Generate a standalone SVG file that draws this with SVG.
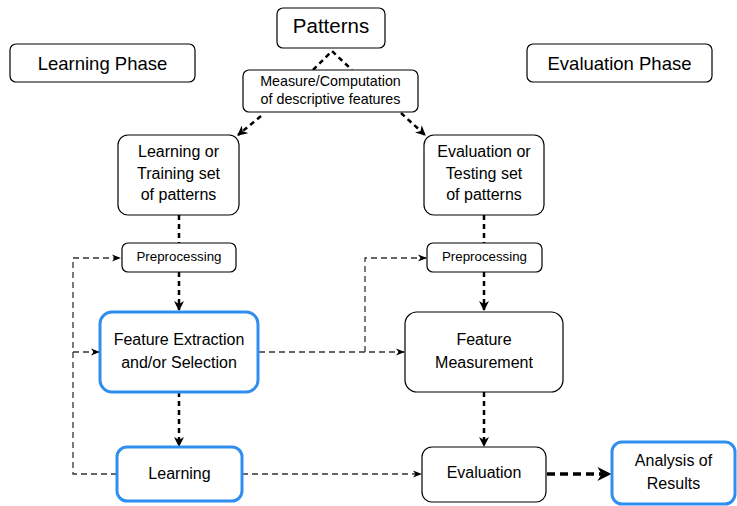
<svg xmlns="http://www.w3.org/2000/svg" width="737" height="506" viewBox="0 0 737 506">
  <defs>
    <marker id="arr" viewBox="0 0 10 10" refX="9" refY="5" markerWidth="4" markerHeight="4" orient="auto" markerUnits="strokeWidth">
      <path d="M0,0 L10,5 L0,10 L3,5 Z" fill="#000"/>
    </marker>
    <marker id="arrThin" viewBox="0 0 10 10" refX="9" refY="5" markerWidth="7" markerHeight="7" orient="auto" markerUnits="strokeWidth">
      <path d="M0,1 L10,5 L0,9 L3,5 Z" fill="#000"/>
    </marker>
    <style>
      .box { fill: #fff; stroke: #000; stroke-width: 1.2; }
      .blue { fill: #fff; stroke: #2f8ff0; stroke-width: 3; }
      text { font-family: "Liberation Sans", Arial, sans-serif; fill: #000; text-anchor: middle; }
      .t16 { font-size: 16px; }
      .t14 { font-size: 14.3px; }
      .t13 { font-size: 13.3px; }
      .t18 { font-size: 18.5px; }
      .main { fill: none; stroke: #000; stroke-width: 2.5; stroke-dasharray: 5 4; }
      .loop { fill: none; stroke: #333; stroke-width: 1.3; stroke-dasharray: 6 4; }
      .thick { fill: none; stroke: #000; stroke-width: 3.5; stroke-dasharray: 8 5; }
    </style>
  </defs>

  <g id="connectors">
    <!-- chevron between Patterns and the feature computation box -->
    <path class="main" d="M313,70 L332,51 L352,70"/>
    <!-- computation box to the two pattern sets -->
    <path class="main" d="M261,116 L238,135" marker-end="url(#arr)"/>
    <path class="main" d="M401,113 L425,135" marker-end="url(#arr)"/>
    <!-- learning column -->
    <path class="main" d="M179,215 L179,243"/>
    <path class="main" d="M179,272 L179,310" marker-end="url(#arr)"/>
    <path class="main" d="M179,392 L179,446" marker-end="url(#arr)"/>
    <!-- evaluation column -->
    <path class="main" d="M484,215 L484,243"/>
    <path class="main" d="M484,272 L484,310" marker-end="url(#arr)"/>
    <path class="main" d="M484,392 L484,446" marker-end="url(#arr)"/>
    <!-- result analysis -->
    <path class="thick" d="M547,474 L610,474" marker-end="url(#arr)"/>
    <!-- feedback loop on the learning side -->
    <path class="loop" d="M117,474 L73,474 L73,258 L120,258" marker-end="url(#arrThin)"/>
    <path class="loop" d="M73,352 L99,352" marker-end="url(#arrThin)"/>
    <!-- selected features passed to measurement -->
    <path class="loop" d="M259,352 L404,352" marker-end="url(#arrThin)"/>
    <path class="loop" d="M365,352 L365,258 L426,258" marker-end="url(#arrThin)"/>
    <!-- learned model to evaluation -->
    <path class="loop" d="M242,474 L421,474" marker-end="url(#arrThin)"/>
  </g>

  <g id="patterns">
    <rect class="box" x="277" y="8" width="108" height="40" rx="6"/>
    <text x="331" y="33" style="font-size:20.5px">Patterns</text>
  </g>

  <g id="measure">
    <rect class="box" x="243" y="70" width="175" height="42" rx="6"/>
    <text class="t14" x="330.5" y="85.5">Measure/Computation</text>
    <text class="t14" x="330.5" y="103.5">of descriptive features</text>
  </g>

  <g id="learning-phase">
    <rect class="box" x="10" y="44" width="185" height="38" rx="6"/>
    <text class="t18" x="102.5" y="70">Learning Phase</text>
  </g>

  <g id="evaluation-phase">
    <rect class="box" x="527" y="44" width="185" height="38" rx="6"/>
    <text class="t18" x="619.5" y="70">Evaluation Phase</text>
  </g>

  <g id="training-set">
    <rect class="box" x="118" y="135" width="121" height="80" rx="10"/>
    <text class="t16" x="178.5" y="157">Learning or</text>
    <text class="t16" x="178.5" y="178.5">Training set</text>
    <text class="t16" x="178.5" y="200">of patterns</text>
  </g>

  <g id="testing-set">
    <rect class="box" x="424" y="135" width="120" height="80" rx="10"/>
    <text class="t16" x="484" y="157">Evaluation or</text>
    <text class="t16" x="484" y="178.5">Testing set</text>
    <text class="t16" x="484" y="200">of patterns</text>
  </g>

  <g id="preprocessing-learn">
    <rect class="box" x="122" y="243" width="114" height="29" rx="6"/>
    <text class="t13" x="179" y="260.5">Preprocessing</text>
  </g>

  <g id="preprocessing-eval">
    <rect class="box" x="427" y="243" width="115" height="29" rx="6"/>
    <text class="t13" x="484.5" y="260.5">Preprocessing</text>
  </g>

  <g id="feature-extraction">
    <rect class="blue" x="100" y="312" width="158" height="80" rx="12"/>
    <text class="t16" x="179" y="345">Feature Extraction</text>
    <text class="t16" x="179" y="367.5">and/or Selection</text>
  </g>

  <g id="feature-measurement">
    <rect class="box" x="405" y="312" width="158" height="80" rx="12"/>
    <text class="t16" x="484" y="345">Feature</text>
    <text class="t16" x="484" y="367.5">Measurement</text>
  </g>

  <g id="learning">
    <rect class="blue" x="117" y="447" width="125" height="54" rx="10"/>
    <text class="t16" x="179.5" y="478.5">Learning</text>
  </g>

  <g id="evaluation">
    <rect class="box" x="422" y="447" width="124" height="55" rx="10"/>
    <text class="t16" x="484" y="478">Evaluation</text>
  </g>

  <g id="analysis">
    <rect class="blue" x="612" y="442" width="123" height="62" rx="10"/>
    <text class="t16" x="673.5" y="466">Analysis of</text>
    <text class="t16" x="673.5" y="489">Results</text>
  </g>
</svg>
